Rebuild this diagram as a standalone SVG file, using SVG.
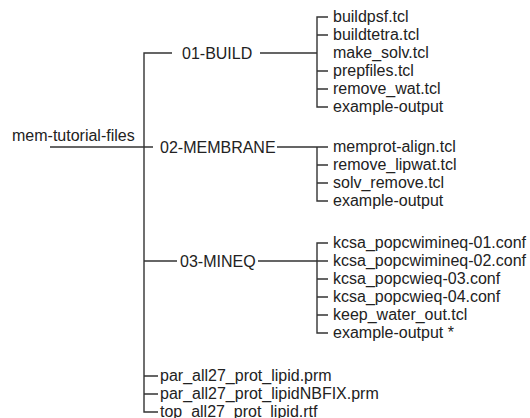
<svg xmlns="http://www.w3.org/2000/svg" width="530" height="418" viewBox="0 0 530 418">
<style>
text{font-family:"Liberation Sans",Arial,sans-serif;font-size:16px;fill:#222}
.c path{fill:none;stroke:#333;stroke-width:1.4}
</style>
<rect width="530" height="418" fill="#fff"/>
<g class="c" id="connectors">
<path d="M50 147H153"/>
<path d="M172 53H144V412H158"/>
<path d="M144 261H177"/>
<path d="M144 376H158M144 394H158"/>
<path d="M260 53H317M328 17H317V107H328M317 35H328M317 71H328M317 89H328"/>
<path d="M277 147H328M317 147V201H328M317 165H328M317 183H328"/>
<path d="M258 261H328M328 243H317V333H328M317 279H328M317 297H328M317 315H328"/>
</g>
<g id="root"><text x="12" y="141">mem-tutorial-files</text></g>
<g id="build"><text x="182" y="59">01-BUILD</text></g>
<g id="build-files">
<text x="333" y="22">buildpsf.tcl</text>
<text x="333" y="40">buildtetra.tcl</text>
<text x="333" y="58">make_solv.tcl</text>
<text x="333" y="76">prepfiles.tcl</text>
<text x="333" y="94">remove_wat.tcl</text>
<text x="333" y="112">example-output</text>
</g>
<g id="membrane"><text x="160" y="153">02-MEMBRANE</text></g>
<g id="membrane-files">
<text x="333" y="152">memprot-align.tcl</text>
<text x="333" y="170">remove_lipwat.tcl</text>
<text x="333" y="188">solv_remove.tcl</text>
<text x="333" y="206">example-output</text>
</g>
<g id="mineq"><text x="180" y="267">03-MINEQ</text></g>
<g id="mineq-files">
<text x="333" y="248">kcsa_popcwimineq-01.conf</text>
<text x="333" y="266">kcsa_popcwimineq-02.conf</text>
<text x="333" y="284">kcsa_popcwieq-03.conf</text>
<text x="333" y="302">kcsa_popcwieq-04.conf</text>
<text x="333" y="320">keep_water_out.tcl</text>
<text x="333" y="338">example-output *</text>
</g>
<g id="top-files">
<text x="160" y="381">par_all27_prot_lipid.prm</text>
<text x="160" y="399">par_all27_prot_lipidNBFIX.prm</text>
<text x="160" y="417">top_all27_prot_lipid.rtf</text>
</g>
</svg>
